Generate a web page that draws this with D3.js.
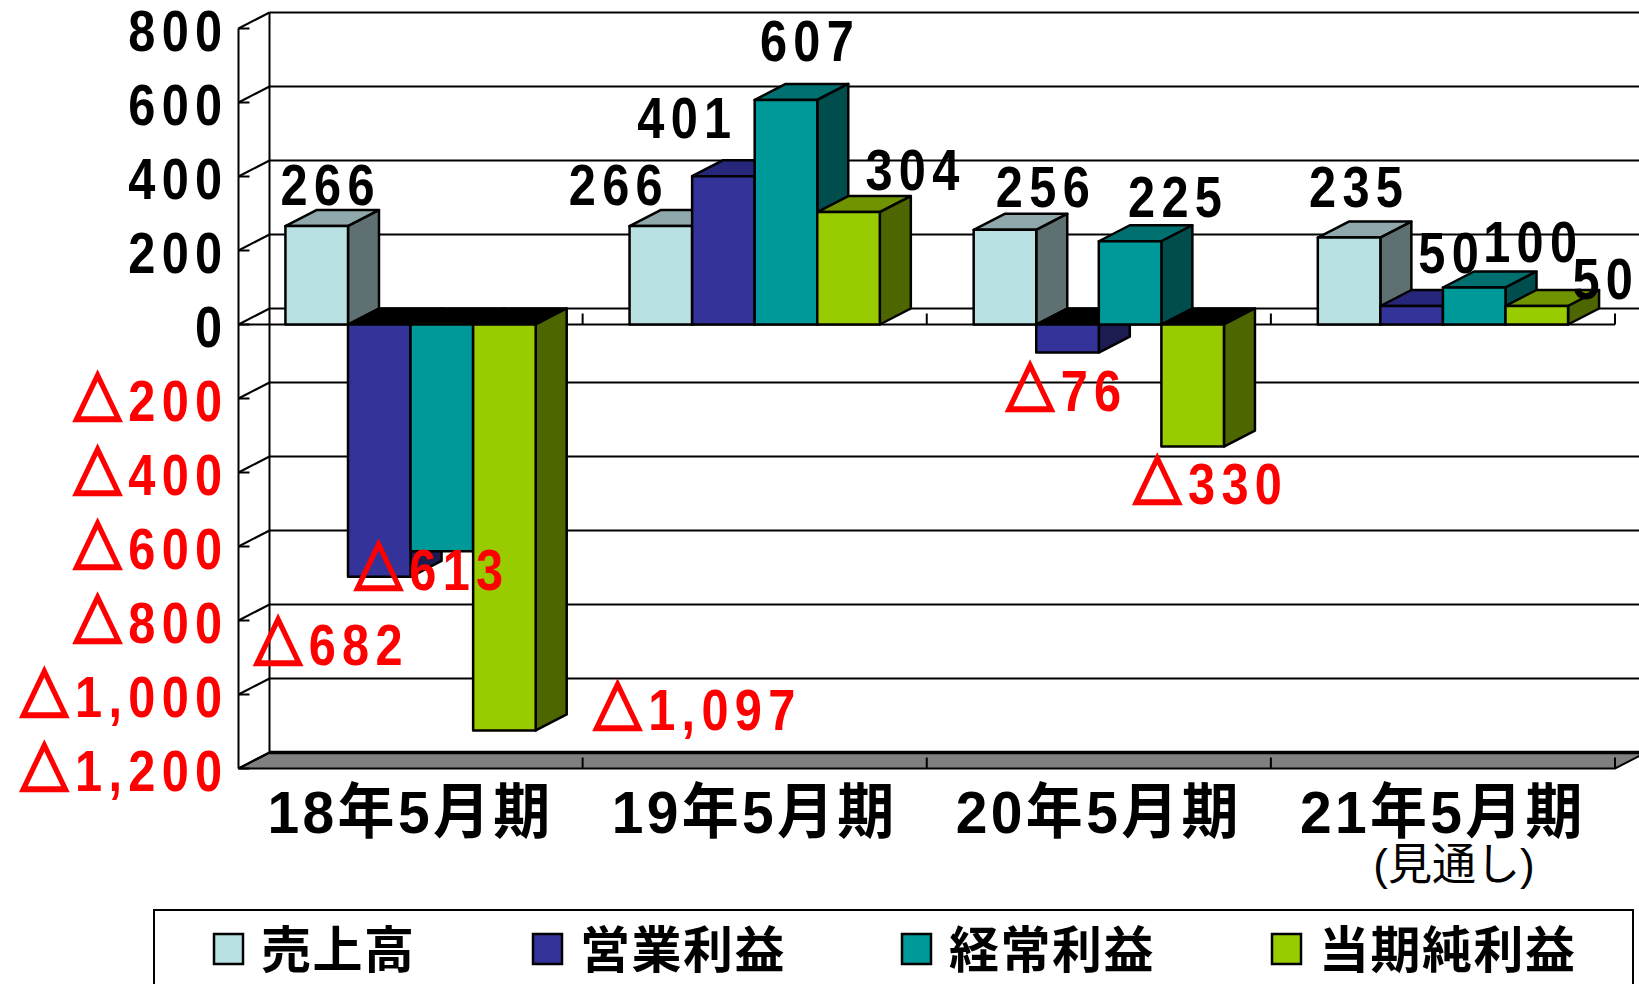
<!DOCTYPE html>
<html>
<head>
<meta charset="utf-8">
<script src="https://cdnjs.cloudflare.com/ajax/libs/d3/7.8.5/d3.min.js"></script>
<style>
  html, body { margin: 0; padding: 0; background: #fff; overflow: hidden; }
  text { font-family: "Liberation Sans", "Noto Sans CJK JP", sans-serif; font-weight: 700; }
</style>
</head>
<body>
<div id="chart"></div>
<script>
const categories = ['18年5月期', '19年5月期', '20年5月期', '21年5月期']
const seriesNames = ['売上高', '営業利益', '経常利益', '当期純利益']
const sales = [266, 266, 256, 235]
const operating = [-682, 401, -76, 50]
const ordinary = [-613, 607, 225, 100]
const net = [-1097, 304, -330, 50]
const yTicks = [800, 600, 400, 200, 0, -200, -400, -600, -800, -1000, -1200]

// where each value label sits relative to the end of its bar, same order as the series
const labelDx = [[12, -44, 39, 8], [-50, -38, -3, 38], [-12, 22, 46, 57], [191, 65, 16, 67]]
const labelDy = [[-39, -39, -41, -48], [70, -56, 40, -51], [21, -57, -42, -43], [-18, -40, 40, -25]]

const colors = [
  { front: '#b9e0e3', top: '#8fa8ab', side: '#5f7072' },
  { front: '#333399', top: '#26267a', side: '#1c1c50' },
  { front: '#009999', top: '#006f6f', side: '#004d4d' },
  { front: '#99cc00', top: '#6f9400', side: '#4d6600' }
]
const legendX = [214, 533, 902, 1272]

const dimensions = { width: 1639, height: 984, left: 238.5, right: 1615, top: 28.5, bottom: 768.5 }
const depth = { x: 31, y: 16 }
const RED = '#ff0000'
const NARROW = 0.84 // the digits in the original are squeezed sideways

const fmtAbs = v => d3.format(',')(Math.abs(v))

// negative numbers are written with a heavy triangle in front
function writeValue (sel, v) {
  sel.text(null)
  if (v < 0) {
    sel.append('tspan')
      .attr('stroke', RED)
      .attr('stroke-width', 3.5)
      .text('△')
  }
  sel.append('tspan').text(fmtAbs(v))
}

const wrapper = d3.select('#chart').append('svg')
  .attr('width', dimensions.width)
  .attr('height', dimensions.height)

const yScale = d3.scaleLinear()
  .domain([-1200, 800])
  .range([dimensions.bottom, dimensions.top])
const xScale = d3.scaleBand()
  .domain(categories)
  .range([dimensions.left, dimensions.right])
const barScale = d3.scaleBand()
  .domain(d3.range(4))
  .range([0, xScale.bandwidth()])
  .paddingOuter(0.75)
  .paddingInner(0)

const poly = pts => pts.map(p => p.join(',')).join(' ')

// floor
wrapper.append('polygon')
  .attr('points', poly([
    [dimensions.left, yScale(-1200)],
    [dimensions.right, yScale(-1200)],
    [dimensions.right + depth.x, yScale(-1200) - depth.y],
    [dimensions.left + depth.x, yScale(-1200) - depth.y]
  ]))
  .attr('fill', '#808080')
  .attr('stroke', '#000')
  .attr('stroke-width', 2)

// back wall grid and the little diagonals on the left wall
const grid = wrapper.append('g')
yTicks.forEach(t => {
  const y = yScale(t)
  grid.append('line')
    .attr('x1', dimensions.left + depth.x).attr('x2', dimensions.right + depth.x)
    .attr('y1', y - depth.y).attr('y2', y - depth.y)
    .attr('stroke', '#000')
    .attr('stroke-width', t === -1200 ? 3.5 : 2)
  grid.append('line')
    .attr('x1', dimensions.left).attr('x2', dimensions.left + depth.x)
    .attr('y1', y).attr('y2', y - depth.y)
    .attr('stroke', '#000').attr('stroke-width', 2)
  grid.append('line')
    .attr('x1', dimensions.left).attr('x2', dimensions.left + 11)
    .attr('y1', y).attr('y2', y)
    .attr('stroke', '#000').attr('stroke-width', 2)
})
grid.append('line')
  .attr('x1', dimensions.left).attr('x2', dimensions.left)
  .attr('y1', dimensions.top).attr('y2', dimensions.bottom)
  .attr('stroke', '#000').attr('stroke-width', 2)
grid.append('line')
  .attr('x1', dimensions.left + depth.x).attr('x2', dimensions.left + depth.x)
  .attr('y1', dimensions.top - depth.y).attr('y2', dimensions.bottom - depth.y)
  .attr('stroke', '#000').attr('stroke-width', 2)

// zero line and floor ticks
const tickXs = categories.map(c => xScale(c) + xScale.bandwidth())
wrapper.append('line')
  .attr('x1', dimensions.left).attr('x2', dimensions.right)
  .attr('y1', yScale(0)).attr('y2', yScale(0))
  .attr('stroke', '#000').attr('stroke-width', 2)
tickXs.forEach(x => {
  [0, -1200].forEach(v => {
    wrapper.append('line')
      .attr('x1', x).attr('x2', x)
      .attr('y1', yScale(v)).attr('y2', yScale(v) - 11)
      .attr('stroke', '#000').attr('stroke-width', 2)
  })
})

// bars, left to right so the next front face covers the previous side
const series = [sales, operating, ordinary, net]
const bars = wrapper.append('g')
categories.forEach((cat, i) => {
  series.forEach((values, s) => {
    const v = values[i]
    const x0 = xScale(cat) + barScale(s)
    const x1 = x0 + barScale.bandwidth()
    const y0 = yScale(0)
    const yv = yScale(v)
    const g = bars.append('g')
      .attr('stroke', '#000')
      .attr('stroke-width', 2.5)
      .attr('stroke-linejoin', 'round')
    const capY = v < 0 ? y0 : yv
    g.append('polygon')
      .attr('points', poly([[x0, capY], [x1, capY], [x1 + depth.x, capY - depth.y], [x0 + depth.x, capY - depth.y]]))
      .attr('fill', v < 0 ? '#000' : colors[s].top)
    g.append('polygon')
      .attr('points', poly([[x1, y0], [x1, yv], [x1 + depth.x, yv - depth.y], [x1 + depth.x, y0 - depth.y]]))
      .attr('fill', colors[s].side)
    g.append('rect')
      .attr('x', x0).attr('width', x1 - x0)
      .attr('y', Math.min(y0, yv)).attr('height', Math.abs(yv - y0))
      .attr('fill', colors[s].front)
  })
})

// value labels
const labels = wrapper.append('g')
  .attr('font-size', 58)
  .attr('text-anchor', 'middle')
categories.forEach((cat, i) => {
  series.forEach((values, s) => {
    const v = values[i]
    const lx = xScale(cat) + barScale(s) + barScale.bandwidth() / 2 + labelDx[s][i] + 2
    const ly = yScale(v) + labelDy[s][i] - 3
    labels.append('text')
      .attr('transform', `translate(${lx}, ${ly}) scale(${NARROW}, 1)`)
      .attr('dy', '0.36em')
      .attr('letter-spacing', 7.5)
      .attr('fill', v < 0 ? RED : '#000')
      .call(writeValue, v)
  })
})

// y axis labels
const yAxis = wrapper.append('g')
  .attr('transform', `translate(${dimensions.left}, 0)`)
  .call(d3.axisLeft(yScale).tickValues(yTicks).tickSize(0))
yAxis.select('.domain').remove()
yAxis.selectAll('text')
  .attr('font-size', 58)
  .attr('letter-spacing', 7.5)
  .attr('font-family', null)
  .attr('x', 0)
  .attr('y', 3)
  .attr('transform', `translate(-10, 0) scale(${NARROW}, 1)`)
  .attr('fill', d => d < 0 ? RED : '#000')
  .each(function (d) { d3.select(this).call(writeValue, d) })

// category labels
const xAxis = wrapper.append('g')
  .attr('transform', `translate(0, ${dimensions.bottom})`)
  .call(d3.axisBottom(xScale).tickSize(0).tickPadding(22))
xAxis.select('.domain').remove()
xAxis.selectAll('text')
  .attr('font-size', 60)
  .attr('letter-spacing', 3.5)
  .attr('font-family', null)
  .attr('transform', 'scale(0.95, 1)')
  .attr('fill', '#000')

wrapper.append('text')
  .attr('x', xScale(categories[3]) + xScale.bandwidth() / 2 + 11)
  .attr('y', 880)
  .attr('text-anchor', 'middle')
  .attr('font-size', 44)
  .style('font-weight', 400)
  .text('(見通し)')

// legend, cut off by the bottom of the picture as in the original
wrapper.append('rect')
  .attr('x', 154).attr('y', 910)
  .attr('width', 1479).attr('height', 100)
  .attr('fill', 'none').attr('stroke', '#000').attr('stroke-width', 2)
const legend = wrapper.append('g')
seriesNames.forEach((name, s) => {
  legend.append('rect')
    .attr('x', legendX[s]).attr('y', 934)
    .attr('width', 29).attr('height', 30)
    .attr('fill', colors[s].front)
    .attr('stroke', '#000').attr('stroke-width', 2.5)
  legend.append('text')
    .attr('x', legendX[s] + 47).attr('y', 968)
    .attr('font-size', 50)
    .attr('letter-spacing', 1.5)
    .text(name)
})
</script>
</body>
</html>
